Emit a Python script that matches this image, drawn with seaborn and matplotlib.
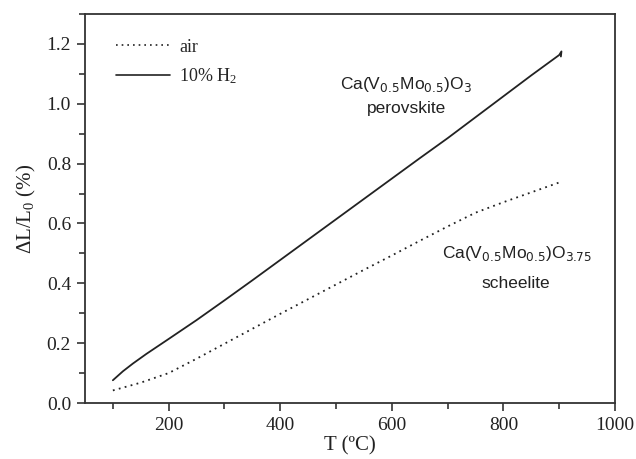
import matplotlib
matplotlib.use("Agg")
import matplotlib.pyplot as plt
from matplotlib.ticker import MultipleLocator
import seaborn as sns
import pandas as pd

# Thermal expansion of Ca(V0.5Mo0.5)O3 in two atmospheres
temp_air = [100, 150, 200, 250, 300, 350, 400, 450, 500, 550, 600,
            650, 700, 750, 800, 850, 900]
dl_air = [0.042, 0.068, 0.100, 0.148, 0.198, 0.248, 0.298, 0.347, 0.396,
          0.445, 0.493, 0.542, 0.590, 0.636, 0.671, 0.704, 0.737]

temp_h2 = [100, 118, 136, 160, 200, 250, 300, 350, 400, 450, 500, 550, 600,
           650, 700, 750, 800, 850, 900, 904, 903]
dl_h2 = [0.076, 0.106, 0.132, 0.164, 0.214, 0.277, 0.343, 0.410, 0.478,
         0.546, 0.614, 0.682, 0.750, 0.818, 0.885, 0.955, 1.025, 1.095,
         1.163, 1.175, 1.158]

labels = ["air", "10% H$_2$"]

df = pd.concat([
    pd.DataFrame({"T": temp_air, "dL": dl_air, "atm": labels[0]}),
    pd.DataFrame({"T": temp_h2, "dL": dl_h2, "atm": labels[1]}),
], ignore_index=True)

sns.set_theme(style="ticks")
plt.rcParams["font.family"] = ["Liberation Serif", "DejaVu Serif"]
plt.rcParams["mathtext.fontset"] = "custom"
plt.rcParams["mathtext.rm"] = "Liberation Serif"
plt.rcParams["mathtext.it"] = "Liberation Serif:italic"

fig = plt.figure(figsize=(6.36, 4.59), dpi=100)
ax = fig.add_axes([0.1336, 0.122, 0.8334, 0.8475])

sns.lineplot(data=df, x="T", y="dL", hue="atm", style="atm",
             palette=["#222222", "#222222"],
             dashes={labels[0]: (1, 2.4), labels[1]: ""},
             sort=False, estimator=None, units="atm",
             linewidth=1.3, ax=ax)

ax.set_xlim(50, 1000)
ax.set_ylim(0, 1.3)
ax.xaxis.set_major_locator(MultipleLocator(200))
ax.xaxis.set_minor_locator(MultipleLocator(100))
ax.yaxis.set_major_locator(MultipleLocator(0.2))
ax.yaxis.set_minor_locator(MultipleLocator(0.1))
ax.set_yticks([0.0, 0.2, 0.4, 0.6, 0.8, 1.0, 1.2])
ax.set_yticklabels(["0.0", "0.2", "0.4", "0.6", "0.8", "1.0", "1.2"])
ax.set_xticks([200, 400, 600, 800, 1000])

for s in ax.spines.values():
    s.set_linewidth(1.3)
    s.set_color("#333333")
ax.tick_params(axis="both", which="major", length=6, width=1.2,
               color="#333333", labelsize=14, labelcolor="#222222",
               direction="out", pad=4)
ax.tick_params(axis="both", which="minor", length=4, width=1.2,
               color="#333333", direction="out")

ax.set_xlabel("T (ºC)", fontsize=15, color="#222222", labelpad=2)
ax.set_ylabel("ΔL/L$_0$ (%)", fontsize=15, color="#222222", labelpad=6)

leg = ax.legend(loc="upper left", frameon=False, fontsize=13,
                handlelength=3.0, handletextpad=0.5, labelspacing=0.6,
                bbox_to_anchor=(0.045, 0.955), borderaxespad=0)
for line in leg.get_lines():
    line.set_linewidth(1.2)

sans = ["Liberation Sans", "DejaVu Sans"]
ax.text(625, 1.064, "Ca(V$_{\\mathsf{0.5}}$Mo$_{\\mathsf{0.5}}$)O$_{\\mathsf{3}}$",
        ha="center", va="center", fontsize=12.5, family=sans, color="#222222",
        math_fontfamily="dejavusans")
ax.text(627, 0.984, "perovskite", ha="center", va="center", fontsize=12.5,
        family=sans, color="#222222")
ax.text(824, 0.50, "Ca(V$_{\\mathsf{0.5}}$Mo$_{\\mathsf{0.5}}$)O$_{\\mathsf{3.75}}$",
        ha="center", va="center", fontsize=12.5, family=sans, color="#222222",
        math_fontfamily="dejavusans")
ax.text(822, 0.40, "scheelite", ha="center", va="center", fontsize=12.5,
        family=sans, color="#222222")

fig.savefig("out.png", dpi=100)
